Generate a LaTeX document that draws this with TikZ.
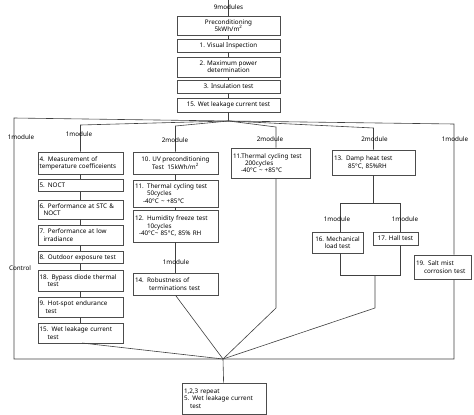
\documentclass[tikz,border=0pt]{standalone}
\usepackage{fontspec}
\setmainfont{Noto Sans}
\begin{document}
\begin{tikzpicture}[x=1pt,y=-1pt,
  box/.style={draw=black!70,fill=white,line width=.6pt,inner sep=0pt,align=center,font=\fontsize{6.3}{7.3}\selectfont},
  lbox/.style={box,align=left,text width=#1},
  wire/.style={draw=black!75,line width=.6pt},
  lbl/.style={font=\fontsize{6.3}{7.3}\selectfont,inner sep=0pt}]
\useasboundingbox (0,0) rectangle (474,415);
% top column
\node[box,minimum width=103,minimum height=19] (pre) at (228.5,25.5) {Preconditioning\\5kWh/m\textsuperscript{2}};
\node[box,minimum width=103,minimum height=13] (vis) at (228.5,45.5) {1. Visual Inspection};
\node[box,minimum width=103,minimum height=20] (maxp) at (228.5,67) {2. Maximum power\\determination};
\node[box,minimum width=103,minimum height=13,line width=.9pt] (ins) at (228.5,86.5) {3. Insulation test};
\node[box,minimum width=103,minimum height=14] (wet) at (228.5,105) {15. Wet leakage current test};
\coordinate (topin) at (228.5,0);
\coordinate (hub) at (228.5,121);
\draw[wire] (topin) -- (pre);
\node[lbl] (nine) at (228.5,7) {9modules};
\foreach \a/\b in {pre/vis,vis/maxp,maxp/ins,ins/wet,wet/hub}
  \draw[wire] (\a) -- (\b);
% left column
\node[lbox=82,minimum width=85,minimum height=22] (t4) at (80.5,163) {4. Measurement of\\temperature coefficeients};
\node[lbox=82,minimum width=85,minimum height=12] (t5) at (80.5,185.5) {5. NOCT};
\node[lbox=82,minimum width=85,minimum height=19] (t6) at (80.5,209.5) {6. Performance at STC \&\\\hspace*{4pt}NOCT};
\node[lbox=82,minimum width=85,minimum height=20] (t7) at (80.5,235) {7. Performance at low\\\hspace*{4pt}irradiance};
\node[lbox=82,minimum width=85,minimum height=12] (t8) at (80.5,257.5) {8. Outdoor exposure test};
\node[lbox=82,minimum width=85,minimum height=21] (t18) at (80.5,280.5) {18. Bypass diode thermal\\\hspace*{8pt}test};
\node[lbox=82,minimum width=85,minimum height=20] (t9) at (80.5,307) {9. Hot-spot endurance\\\hspace*{6pt}test};
\node[lbox=82,minimum width=85,minimum height=20] (t15) at (80.5,333) {15. Wet leakage current\\\hspace*{8pt}test};
\foreach \a/\b in {t4/t5,t5/t6,t6/t7,t7/t8,t8/t18,t18/t9,t9/t15}
  \draw[wire] (\a) -- (\b);
% second column
\node[box,minimum width=85,minimum height=22,line width=.9pt] (t10) at (175.5,163) {10. UV preconditioning\\Test\ \ 15kWh/m\textsuperscript{2}};
\node[lbox=81,minimum width=85,minimum height=27] (t11a) at (175.5,193.5) {11. Thermal cycling test\\\hspace*{12pt}50cycles\\\hspace*{8pt}-40°C \textasciitilde\ +85°C};
\node[lbox=81,minimum width=85,minimum height=32] (t12) at (175.5,226) {12. Humidity freeze test\\\hspace*{12pt}10cycles\\\hspace*{4pt}-40°C\textasciitilde\ 85°C, 85\% RH};
\node[lbox=81,minimum width=85,minimum height=22] (t14) at (175.5,284) {14. Robustness of\\\hspace*{14pt}terminations test};
\foreach \a/\b in {t10/t11a,t11a/t12,t12/t14}
  \draw[wire] (\a) -- (\b);
% third and fourth column
\node[lbox=75,minimum width=79,minimum height=30] (t11b) at (270.5,163) {11.Thermal cycling test\\\hspace*{12pt}200cycles\\\hspace*{8pt}-40°C \textasciitilde\ +85°C};
\node[lbox=79,minimum width=83,minimum height=25,line width=.9pt] (t13) at (373.5,162.5) {13. Damp heat test\\\hspace*{14pt}85°C, 85\%RH};
\node[box,minimum width=51,minimum height=21] (t16) at (337.5,242.5) {16. Mechanical\\load test};
\node[box,minimum width=45,minimum height=13,line width=.9pt] (t17) at (395.5,238.5) {17. Hall test};
\node[lbox=53,minimum width=57,minimum height=24] (t19) at (442.5,267) {19. Salt mist\\\hspace*{8pt}corrosion test};
\node[lbox=80,minimum width=84,minimum height=31] (fin) at (224,398.5) {1,2,3 repeat\\5. Wet leakage current\\\hspace*{6pt}test};
% branching
\coordinate (ltop) at (14,118);
\coordinate (lbot) at (14,359);
\coordinate (rtop) at (454,124);
\coordinate (rbot) at (454,359);
\coordinate (bhub) at (223,359);
\draw[wire] (hub) -- (ltop) -- (lbot) -- (rbot) -- (rtop |- t19.south);
\draw[wire] (t19.north -| rtop) -- (rtop) -- (hub);
\draw[wire] (hub) -- (80.5,125) -- (t4);
\draw[wire] (hub) -- (175.5,126) -- (t10);
\draw[wire] (hub) -- (276,127) -- (t11b.north -| 276,0);
\draw[wire] (hub) -- (373.5,128) -- (t13);
\coordinate (split) at (373.5,203);
\coordinate (join) at (375,275);
\draw[wire] (t13) -- (split);
\draw[wire] (340,232) -- (340,203) -- (400,203) -- (400,232);
\draw[wire] (340,253) -- (340,275) -- (400,275) -- (400,245);
% to the bottom hub
\draw[wire] (82,343) -- (bhub);
\draw[wire] (t14.south) -- (bhub);
\draw[wire] (t11b.south -| 276,0) -- (276,308) -- (bhub);
\draw[wire] (join) -- (375,308) -- (bhub);
\draw[wire] (bhub) -- (fin);
% labels
\node[lbl] (m1) at (21,137) {1module};
\node[lbl] (m2) at (79,134) {1module};
\node[lbl] (m3) at (175,140) {2module};
\node[lbl] (m4) at (270,139) {2module};
\node[lbl] (m5) at (374.5,139) {2module};
\node[lbl] (m6) at (455,139) {1module};
\node[lbl] (m7) at (176,262) {1module};
\node[lbl] (m8) at (337,219) {1module};
\node[lbl] (m9) at (405,219) {1module};
\node[lbl] (ctl) at (20,268) {Control};
\end{tikzpicture}
\end{document}
